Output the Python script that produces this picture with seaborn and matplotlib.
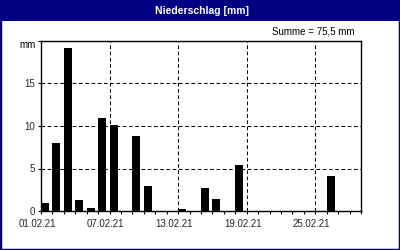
import matplotlib
matplotlib.use("Agg")
import matplotlib.pyplot as plt
import matplotlib.transforms as mtransforms
from matplotlib.patches import Rectangle
import seaborn as sns

# ---- data ----
days = [f"{d:02d}.02.21" for d in range(1, 29)]
precip = [1.0, 8.0, 19.2, 1.3, 0.3, 10.9, 10.1, 0.0, 8.8, 2.9,
          0.0, 0.0, 0.2, 0.0, 2.7, 1.4, 0.0, 5.4, 0.0, 0.0,
          0.0, 0.0, 0.0, 0.0, 0.0, 4.1, 0.0, 0.0]
tick_days = ["01.02.21", "07.02.21", "13.02.21", "19.02.21", "25.02.21"]
y_ticks = [0, 5, 10, 15]
title = "Niederschlag [mm]"
sum_text = "Summe = 75,5 mm"
unit = "mm"

sns.set_style("white")
plt.rcParams["font.family"] = ["Liberation Sans", "DejaVu Sans"]

W, H = 400, 250
fig = plt.figure(figsize=(4, 2.5), dpi=100)
fig.patch.set_facecolor("white")
ax = fig.add_axes([41 / W, 1 - 211 / H, 320 / W, 170 / H])

bw = 0.7
sns.barplot(x=days, y=precip, order=days, color="black", saturation=1,
            width=bw, linewidth=0, ax=ax)

half = bw / 2
ax.set_xlim(-half, len(days) - half)
ax.set_ylim(0, 20)

# ticks
ax.set_xticks([days.index(t) - half for t in tick_days])
ax.set_xticklabels(tick_days, fontsize=7)
ax.set_xticks([i - half for i in range(len(days) + 1)], minor=True)
ax.set_yticks(y_ticks + [20])
ax.set_yticklabels([str(v) for v in y_ticks] + [""], fontsize=7)
ax.tick_params(axis="x", which="both", direction="out", length=2.5,
               width=0.8, color="black", pad=3.5, bottom=True)
ax.tick_params(axis="y", direction="out", length=2.5, width=0.8,
               color="black", pad=2, left=True)
ax.set_xlabel("")
ax.set_ylabel("")

off = mtransforms.ScaledTranslation(-4 / 100, 0, fig.dpi_scale_trans)
for lab in ax.get_xticklabels():
    lab.set_transform(lab.get_transform() + off)

# grid lines
ls = (0, (3.5, 2.5))
for t in tick_days[1:]:
    ax.axvline(days.index(t) - half, color="black", lw=0.75, ls=ls, zorder=0)
for v in y_ticks[1:]:
    ax.axhline(v, color="black", lw=0.75, ls=ls, zorder=0)

for s in ax.spines.values():
    s.set_color("black")
    s.set_linewidth(1.0)
    s.set_visible(True)

# title bar and border
fig.add_artist(Rectangle((0, 1 - 21 / H), 1, 21 / H, transform=fig.transFigure,
                         facecolor="#000080", edgecolor="none", zorder=5))
fig.add_artist(Rectangle((0, 0), 1, 1, transform=fig.transFigure,
                         facecolor="none", edgecolor="#000080", lw=2.5, zorder=6))
fig.text(202 / W, 1 - 10.5 / H, title, color="white", fontsize=7.5,
         fontweight="bold", ha="center", va="center", zorder=7)
fig.text(354 / W, 1 - 31 / H, sum_text, color="black", fontsize=7,
         ha="right", va="center")
fig.text(36 / W, 1 - 45 / H, unit, color="black", fontsize=7,
         ha="right", va="center")

fig.savefig("out.png", dpi=100, facecolor=fig.get_facecolor())
